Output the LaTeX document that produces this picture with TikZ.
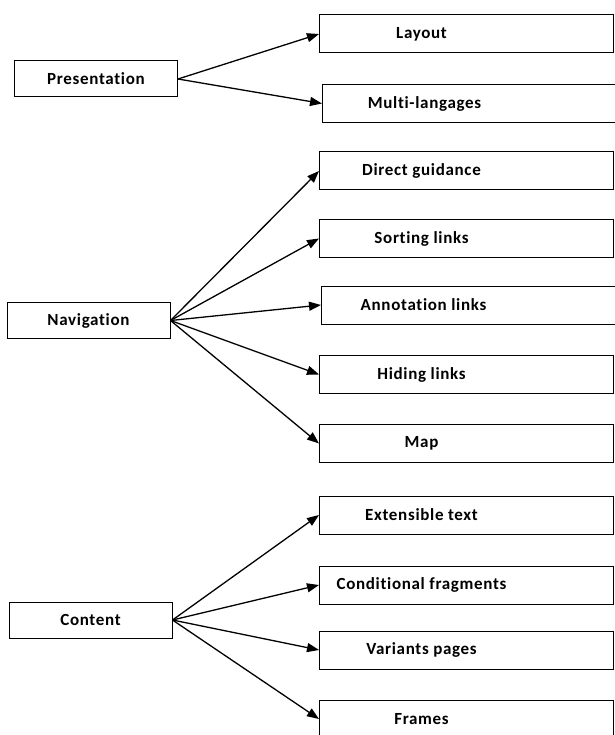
\documentclass[tikz,border=0pt]{standalone}
\usepackage{fontspec}
\setmainfont{Carlito}[LetterSpace=4, Ligatures=NoCommon]
\usetikzlibrary{arrows.meta}

% label of a right-hand box: text centred in the left part of the box
\newcommand{\leaflabel}[1]{\makebox[204pt]{#1}\hspace*{90pt}}

\begin{document}
\begin{tikzpicture}[x=1pt, y=-1pt,
  every node/.style={draw, rectangle, line width=1pt, minimum height=38pt, inner xsep=0pt,
    font=\fontsize{17}{19}\selectfont\bfseries},
  root/.style={minimum width=163pt, minimum height=36pt},
  leaf/.style={anchor=west},
  link/.style={line width=1.3pt, -{Triangle[length=12pt, width=9pt]}}]

\useasboundingbox (0,0) rectangle (614,735);

% Presentation

\node (pres) [root] at (96,79) {Presentation};
\node (layout) [leaf] at (319,34) {\leaflabel{Layout}};
\node (multi) [leaf] at (322,103.5) {\leaflabel{Multi-langages}};

% Navigation

\node (nav) [root] at (88.5,320.5) {Navigation};
\node (direct) [leaf] at (319,171) {\leaflabel{Direct guidance}};
\node (sorting) [leaf] at (319,238.5) {\leaflabel{Sorting links}};
\node (annot) [leaf] at (321,305) {\leaflabel{Annotation links}};
\node (hiding) [leaf] at (319,374.5) {\leaflabel{Hiding links}};
\node (map) [leaf] at (319,443.5) {\leaflabel{Map}};

% Content

\node (content) [root] at (90.5,620) {Content};
\node (ext) [leaf] at (319,515) {\leaflabel{Extensible text}};
\node (cond) [leaf] at (319,585) {\leaflabel{Conditional fragments}};
\node (variants) [leaf] at (319,650) {\leaflabel{Variants pages}};
\node (frames) [leaf] at (319,719) {\leaflabel{Frames}};

% edges

\draw [link] (pres.east) -- (layout.west);
\draw [link] (pres.east) -- (multi.west);
\draw [link] (nav.east) -- (direct.west);
\draw [link] (nav.east) -- (sorting.west);
\draw [link] (nav.east) -- (annot.west);
\draw [link] (nav.east) -- (hiding.west);
\draw [link] (nav.east) -- (map.west);
\draw [link] (content.east) -- (ext.west);
\draw [link] (content.east) -- (cond.west);
\draw [link] (content.east) -- (variants.west);
\draw [link] (content.east) -- (frames.west);

\end{tikzpicture}
\end{document}
